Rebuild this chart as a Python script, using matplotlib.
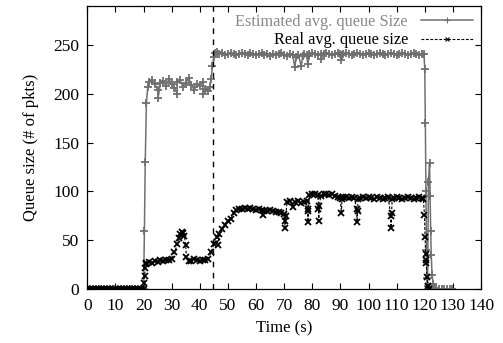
import matplotlib
matplotlib.use("Agg")
import matplotlib.pyplot as plt

plt.rcParams['font.family'] = ['Liberation Serif', 'DejaVu Serif']

# estimated average queue size (grey, "+")
est_t = [0, 1, 2, 3, 4, 5, 6, 7, 8, 9, 10, 11, 12, 13, 14, 15, 16, 17, 18, 19,
         19.5, 20, 20.3, 20.6, 21, 21.5, 22, 23, 24, 25, 25.2, 26, 27, 28, 29,
         30, 31, 31.9, 32, 33, 34, 35, 36, 37, 38, 39, 40, 41, 41.2, 42, 43,
         43.5, 44, 44.5, 45, 45.5, 46, 47, 48, 49, 50, 51, 52, 53, 54, 55, 56,
         57, 58, 59, 60, 61, 62, 63, 64, 65, 66, 67, 68, 69, 70, 71, 72, 73,
         73.8, 74.3, 75, 76.1, 76.6, 77, 78, 78.4, 78.8, 79, 80, 81, 82, 83,
         83.2, 84, 85, 86, 87, 88, 89, 90, 90.3, 90.7, 91, 92, 93, 94, 95, 96,
         97, 98, 99, 100, 101, 102, 103, 104, 105, 106, 107, 108, 109, 110,
         111, 112, 113, 114, 115, 116, 117, 118, 119, 119.7, 120, 120.2, 120.4,
         120.6, 120.8, 121, 121.3, 121.7, 121.9, 122.1, 122.3, 122.6, 123,
         123.5, 124, 125, 126, 127, 128, 129, 129.8]
est_q = [0, 0, 0, 0, 0, 0, 0, 0, 0, 0, 0, 0, 0, 0, 0, 0, 0, 0, 0, 0,
         0, 0, 60, 130, 190, 207, 212, 214, 210, 204, 196, 211, 213, 208, 215,
         210, 206, 200, 212, 214, 207, 211, 216, 209, 204, 210, 208, 212, 200,
         205, 203, 207, 215, 228, 238, 242, 243, 241, 242, 240, 241, 242, 241,
         240, 241, 242, 241, 240, 242, 241, 240, 241, 242, 240, 241, 239, 241,
         240, 241, 242, 240, 239, 241, 240, 227, 238, 240, 228, 239, 241, 240,
         230, 239, 241, 242, 241, 240, 241, 236, 241, 242, 241, 240, 241, 242,
         241, 234, 240, 241, 242, 241, 240, 241, 242, 241, 240, 241, 242, 241,
         240, 241, 242, 241, 240, 241, 242, 241, 240, 241, 242, 241, 240, 241,
         242, 241, 240, 241, 241, 225, 170, 100, 40, 12, 3, 110, 129, 95, 60,
         35, 15, 5, 1, 0, 0, 0, 0, 0, 0, 0]

# real average queue size (black, "x", dashed)
real_t = [0, 1, 2, 3, 4, 5, 6, 7, 8, 9, 10, 11, 12, 13, 14, 15, 16, 17, 18, 19,
          20, 20.2, 20.4, 20.6, 20.8, 21, 22, 23, 24, 25, 26, 27, 28, 29, 30,
          31, 32, 32.5, 33, 33.5, 34, 34.5, 35, 35.2, 36, 37, 38, 39, 40, 41,
          42, 43, 44, 45, 46, 46.5, 47, 48, 49, 50, 51, 52, 53, 54, 55, 56, 57,
          58, 59, 60, 61, 62, 62.5, 63, 64, 65, 66, 67, 68, 69, 70, 70.2, 70.3,
          70.6, 71, 72, 73, 74, 75, 76, 77, 78, 78.4, 78.5, 78.6, 79, 80, 81,
          82, 82.2, 82.3, 82.5, 83, 84, 85, 86, 87, 88, 89, 90, 90.3, 90.6, 91,
          92, 93, 94, 95, 95.8, 95.9, 96.1, 96.3, 97, 98, 99, 100, 101, 102,
          103, 104, 105, 106, 107, 107.9, 108, 108.2, 108.4, 109, 110, 111, 112,
          113, 114, 115, 116, 117, 118, 119, 119.5, 119.9, 120.1, 120.3, 120.4,
          120.5, 120.8, 121.1, 121.5]
real_q = [0, 0, 0, 0, 0, 0, 0, 0, 0, 0, 0, 0, 0, 0, 0, 0, 0, 0, 0, 0,
          0, 6, 14, 22, 26, 27, 28, 27, 29, 28, 30, 29, 30, 30, 31,
          38, 46, 52, 57, 59, 58, 55, 45, 33, 29, 29, 31, 30, 29, 30,
          30, 31, 38, 46, 53, 45, 57, 62, 66, 70, 72, 78, 81, 82, 82, 83, 82,
          83, 82, 81, 82, 81, 76, 80, 80, 81, 80, 79, 79, 78, 77, 70, 63,
          75, 89, 90, 84, 89, 90, 88, 89, 90, 80, 69, 82, 96, 97, 97,
          96, 82, 70, 85, 95, 97, 97, 96, 97, 95, 94, 93, 78, 92, 94,
          94, 93, 94, 93, 82, 69, 80, 92, 93, 94, 93, 94, 93, 92,
          94, 93, 92, 93, 94, 75, 63, 78, 92, 93, 94, 93, 92,
          93, 94, 93, 92, 93, 94, 93, 92, 76, 53, 36, 30,
          27, 13, 3, 0]

x_ticks = [0, 10, 20, 30, 40, 50, 60, 70, 80, 90, 100, 110, 120, 130, 140]
y_ticks = [0, 50, 100, 150, 200, 250]
marker_time = 44.8

fig = plt.figure(figsize=(5.03, 3.43), dpi=100)
ax = fig.add_axes([0.1736, 0.1566, 0.7827, 0.8268])

ax.plot(est_t, est_q, color='#707070', lw=1.1, marker='+', ms=5.5, mew=1.3,
        label='Estimated avg. queue Size')
ax.plot(real_t, real_q, color='black', lw=0.8, ls=(0, (2.5, 1.5)), marker='x',
        ms=4.5, mew=1.3, label='Real avg. queue size')
ax.axvline(marker_time, color='black', lw=1.0, ls=(0, (4, 4)))

ax.set_xlim(0, 140)
ax.set_ylim(0, 290)
ax.set_xticks(x_ticks)
ax.set_yticks(y_ticks)
ax.tick_params(direction='in', top=True, right=True, labelsize=12.5, length=4,
               width=0.8, pad=6)
for s in ax.spines.values():
    s.set_linewidth(0.9)

ax.set_xlabel('Time (s)', fontsize=12, labelpad=5)
ax.set_ylabel('Queue size (# of pkts)', fontsize=12, labelpad=10)

leg = ax.legend(loc='upper right', frameon=False, markerfirst=False,
                fontsize=11.7, handlelength=3.2, handletextpad=0.8,
                borderaxespad=0.1, labelspacing=0.15)
leg.legend_handles[0].set_markersize(4)
leg.legend_handles[0].set_markeredgewidth(0.8)
leg.legend_handles[1].set_markersize(3)
leg.legend_handles[1].set_markeredgewidth(0.8)
leg.get_texts()[0].set_color('#888888')

fig.savefig('out.png', dpi=100)
